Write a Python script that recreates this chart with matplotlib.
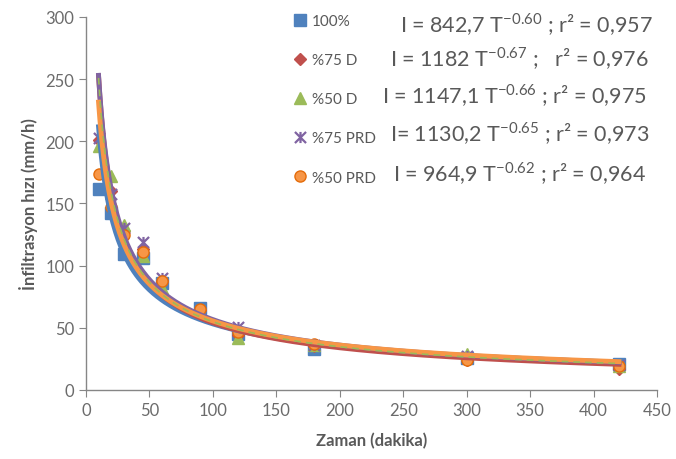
import matplotlib
matplotlib.use("Agg")
import matplotlib.pyplot as plt
import numpy as np
from matplotlib.path import Path

plt.rcParams['font.family'] = ['Lato', 'DejaVu Sans']

# Measured infiltration rates (mm/h) at each time (minutes)
time_min = [10, 20, 30, 45, 60, 90, 120, 180, 300, 420]
rate_100 = [162, 142, 109, 106, 86, 66, 45, 33, 26, 21]
rate_75d = [201, 160, 128, 113, 88, 64, 44, 35, 24, 17]
rate_50d = [196, 172, 133, 108, 82, 63, 42, 36, 29, 19]
rate_75prd = [203, 158, 130, 119, 90, 63, 51, 36, 27, 20]
rate_50prd = [174, 147, 125, 111, 88, 65, 47, 37, 24, 19]

series_names = ["100%", "%75 D", "%50 D", "%75 PRD", "%50 PRD"]
# Power-law fits I = a * T^b
fit_a = [842.7, 1182, 1147.1, 1130.2, 964.9]
fit_b = [-0.60, -0.67, -0.66, -0.65, -0.62]
fit_labels = [
    r"I = 842,7 T$^{\mathregular{-0.60}}$ ; r² = 0,957",
    r"I = 1182 T$^{\mathregular{-0.67}}$ ;   r² = 0,976",
    r"I = 1147,1 T$^{\mathregular{-0.66}}$ ; r² = 0,975",
    r"I= 1130,2 T$^{\mathregular{-0.65}}$ ; r² = 0,973",
    r"I = 964,9 T$^{\mathregular{-0.62}}$ ; r² = 0,964",
]

colors = ["#4F81BD", "#C0504D", "#9BBB59", "#8064A2", "#F79646"]
edge_colors = ["#4F81BD", "#C0504D", "#9BBB59", "#8064A2", "#E46C0A"]

# asterisk-like marker: X with a vertical bar
star_path = Path(
    [(-1, -1), (1, 1), (-1, 1), (1, -1), (0, -1), (0, 1)],
    [Path.MOVETO, Path.LINETO, Path.MOVETO, Path.LINETO, Path.MOVETO, Path.LINETO],
)
markers = ["s", "D", "^", star_path, "o"]
msizes = [8, 6, 8, 8, 8]

fig = plt.figure(figsize=(6.76, 4.60), dpi=100)
ax = fig.add_axes([0.127, 0.150, 0.845, 0.811])

data = [rate_100, rate_75d, rate_50d, rate_75prd, rate_50prd]
handles = []
for i, vals in enumerate(data):
    if markers[i] is star_path:
        h, = ax.plot(time_min, vals, linestyle="none", marker=markers[i],
                     markersize=msizes[i], markerfacecolor="none",
                     markeredgecolor=colors[i], markeredgewidth=1.6, zorder=3)
    else:
        h, = ax.plot(time_min, vals, linestyle="none", marker=markers[i],
                     markersize=msizes[i], markerfacecolor=colors[i],
                     markeredgecolor=edge_colors[i], markeredgewidth=1.0, zorder=3)
    handles.append(h)

# trend lines
t = np.linspace(10, 420, 400)
line_order = [0, 1, 3, 4, 2]
for i in line_order:
    y = fit_a[i] * t ** fit_b[i]
    if i == 2:
        ax.plot(t, y, color=colors[i], lw=1.2, ls=(0, (4, 3)), zorder=5)
    else:
        ax.plot(t, y, color=colors[i], lw=3.5, zorder=4)

ax.set_xlim(0, 450)
ax.set_ylim(0, 300)
ax.set_xticks(np.arange(0, 451, 50))
ax.set_yticks(np.arange(0, 301, 50))

for s in ["top", "right"]:
    ax.spines[s].set_visible(False)
for s in ["left", "bottom"]:
    ax.spines[s].set_color("#868686")
    ax.spines[s].set_linewidth(1.0)
ax.tick_params(axis="both", colors="#868686", labelcolor="#6b6b6b",
               labelsize=12, length=5, direction="out")

ax.set_xlabel("Zaman (dakika)", fontsize=12, fontweight="bold", color="#595959", labelpad=10)
ax.set_ylabel("İnfiltrasyon hızı (mm/h)", fontsize=12, fontweight="bold", color="#595959", labelpad=5)

# legend entries and fitted equations
leg = fig.legend(handles, series_names, loc="upper left",
                 bbox_to_anchor=(0.425, 0.981), frameon=False,
                 fontsize=11, labelcolor="#595959", handlelength=0.8,
                 handletextpad=0.4, labelspacing=1.65, borderaxespad=0)

eq_x = [400, 390, 382, 390, 393]
eq_y = [25, 59, 96, 134, 174]
for lbl, xp, yp in zip(fit_labels, eq_x, eq_y):
    fig.text(xp / 676, 1 - yp / 460, lbl, fontsize=15.5, color="#595959",
             ha="left", va="center")

fig.savefig("out.png", dpi=100)
